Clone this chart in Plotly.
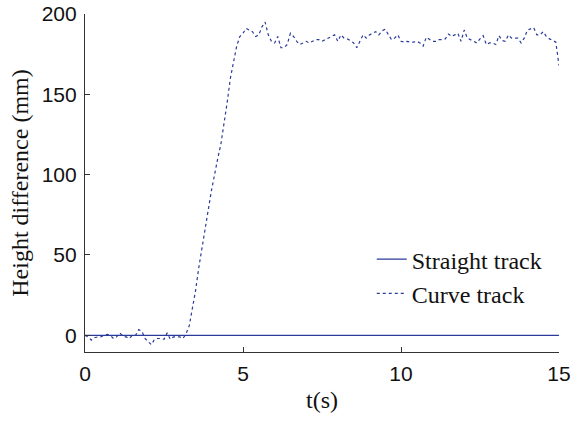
import plotly.graph_objects as go

t = [round(i * 0.1, 1) for i in range(151)]
curve = [
    0, -1, -3, -1.5, -1, -1, 0, 0.5, 0, -2,
    -1, 1.5, -0.5, -1, -2, 0, 0, 3.5, 2.5, -2,
    -4, -5.8, -2.5, -2, -2, -2.5, 1.5, -2.5, -1, -1,
    -1, -2, 1, 6, 17, 28, 42, 55, 67, 78,
    90, 101, 110, 119, 131, 145, 160, 171, 180, 186,
    188, 191, 190, 189, 186, 187, 192, 195, 187, 183,
    182, 186, 179, 179, 181, 188, 186, 183, 181, 182,
    183, 182, 183, 184, 184, 183, 184, 185, 186, 187,
    183, 187, 185, 184.5, 183.5, 182, 179, 183, 187, 185,
    187, 188, 189, 187, 189.5, 190.5, 187, 184, 185, 187,
    183, 182.5, 183, 182.5, 182.5, 183, 182, 180, 185.5, 184,
    183, 183, 184, 184, 184.5, 187.5, 186, 187, 188, 183,
    190, 185, 184, 183, 182, 184.5, 186.5, 181, 182, 182,
    181, 186.5, 183.5, 183, 187, 185, 185, 185, 182, 185,
    190, 191, 191.5, 187, 187, 189, 186, 184.5, 183.5, 182.5,
    168,
]
straight = [0 for _ in t]

x_ticks = [0, 5, 10, 15]
y_ticks = [0, 50, 100, 150, 200]

blue = "#2a3b9c"
serif = "Liberation Serif, Times New Roman"

fig = go.Figure()
fig.add_trace(go.Scatter(x=t, y=straight, mode="lines", name="Straight track",
                         line=dict(color=blue, width=1.2)))
fig.add_trace(go.Scatter(x=t, y=curve, mode="lines", name="Curve track",
                         line=dict(color=blue, width=1.2, dash="dot")))

axis_common = dict(
    showline=True, linecolor="#333333", linewidth=1.2,
    ticks="inside", ticklen=5, tickcolor="#333333", tickwidth=1.2,
    showgrid=False, zeroline=False, mirror=False, ticklabelstandoff=3,
    automargin=False,
    tickfont=dict(family="Liberation Sans, Arial", size=21, color="#111111"),
)

fig.update_layout(
    width=577, height=422,
    margin=dict(l=85, r=18, t=14, b=70, autoexpand=False),
    paper_bgcolor="white", plot_bgcolor="white",
    xaxis=dict(range=[0, 15], tickvals=x_ticks,
               title=dict(text="t(s)", standoff=6,
                          font=dict(family=serif, size=24, color="#111111")),
               **axis_common),
    yaxis=dict(range=[-10.4, 200], tickvals=y_ticks,
               title=dict(text="Height difference (mm)", standoff=6,
                          font=dict(family=serif, size=24, color="#111111")),
               **axis_common),
    legend=dict(x=0.605, y=0.340, xanchor="left", yanchor="top",
                bgcolor="rgba(0,0,0,0)", borderwidth=0,
                font=dict(family=serif, size=24, color="#111111"),
                tracegroupgap=0),
    showlegend=True,
)

fig.write_html("out.html")
